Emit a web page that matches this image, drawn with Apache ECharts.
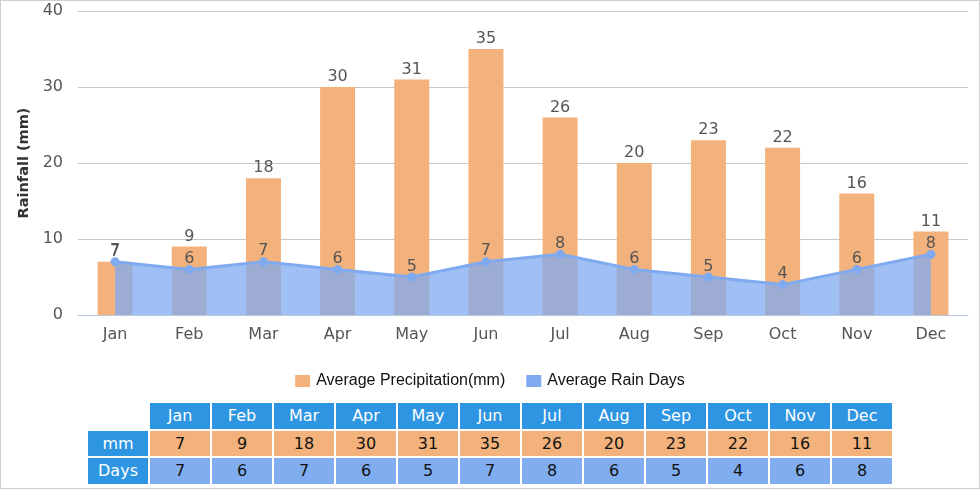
<!DOCTYPE html>
<html><head><meta charset="utf-8">
<script src="https://cdn.jsdelivr.net/npm/echarts@6/dist/echarts.min.js"></script>
<style>
html,body{margin:0;padding:0;background:#fff;}
#wrap{position:relative;width:978px;height:487px;border:1px solid #cfcfcf;overflow:hidden;}
#chart{position:absolute;left:-1px;top:-1px;width:980px;height:400px;}
#tbl{position:absolute;left:85px;top:400px;border-collapse:separate;border-spacing:2px;table-layout:fixed;font-family:"DejaVu Sans",Verdana,sans-serif;font-size:16px;}
#tbl td{height:25.5px;padding:0;text-align:center;width:60px;line-height:25px;}
#tbl td.h{background:#2d95e1;color:#fff;}
#tbl td.mm{background:#f3b27b;color:#111;}
#tbl td.dy{background:#80adef;color:#111;}
#tbl td.e{background:#fff;}
</style></head>
<body>
<div id="wrap"><div id="chart"></div>
<table id="tbl"></table></div>
<script>
const months = ['Jan','Feb','Mar','Apr','May','Jun','Jul','Aug','Sep','Oct','Nov','Dec'];
const precipitation = [7,9,18,30,31,35,26,20,23,22,16,11];
const rainDays = [7,6,7,6,5,7,8,6,5,4,6,8];
const yTicks = {min:0, max:40, interval:10};

const F = 'DejaVu Sans, sans-serif';
const chart = echarts.init(document.getElementById('chart'));
chart.setOption({
  animation:false,
  grid:{left:78,right:12,top:11,height:304},
  legend:{
    top:368, left:'center', itemWidth:15, itemHeight:12, itemGap:21,
    textStyle:{fontFamily:'Liberation Sans, Arial', fontSize:16, color:'#111', padding:[0,0,0,1]},
    data:[{name:'Average Precipitation(mm)', icon:'rect'},{name:'Average Rain Days', icon:'rect'}]
  },
  xAxis:{
    type:'category', data:months, boundaryGap:true,
    axisLine:{lineStyle:{color:'#b8c8de'}},
    axisTick:{length:6, lineStyle:{color:'#b8c8de'}},
    axisLabel:{color:'#555', fontSize:16, margin:12, fontFamily:F}
  },
  yAxis:{
    type:'value', min:yTicks.min, max:yTicks.max, interval:yTicks.interval,
    name:'Rainfall (mm)', nameLocation:'middle', nameGap:46, nameRotate:90,
    nameTextStyle:{fontWeight:'bold', fontSize:14.5, color:'#333', fontFamily:F},
    axisLine:{show:false}, axisTick:{show:false},
    axisLabel:{color:'#555', fontSize:16, margin:15, fontFamily:F},
    splitLine:{lineStyle:{color:'#c8c8c8'}}
  },
  series:[
    {name:'Average Precipitation(mm)', type:'bar', data:precipitation, barWidth:35,
     itemStyle:{color:'#f3b27b'},
     label:{show:true, position:'top', color:'#555', fontSize:16, distance:2, fontFamily:F}},
    {name:'Average Rain Days', type:'line', data:rainDays, symbol:'circle', symbolSize:9,
     itemStyle:{color:'#80aaf0'}, lineStyle:{color:'#80aaf0', width:3},
     areaStyle:{color:'#80aaf0', opacity:0.75},
     label:{show:true, position:'top', color:'#555', fontSize:16, distance:-2, fontFamily:F}}
  ]
});

const tbl = document.getElementById('tbl');
let html = '<tr><td class="e"></td>' + months.map(m=>'<td class="h">'+m+'</td>').join('') + '</tr>';
html += '<tr><td class="h">mm</td>' + precipitation.map(v=>'<td class="mm">'+v+'</td>').join('') + '</tr>';
html += '<tr><td class="h">Days</td>' + rainDays.map(v=>'<td class="dy">'+v+'</td>').join('') + '</tr>';
tbl.innerHTML = html;
</script>
</body></html>
